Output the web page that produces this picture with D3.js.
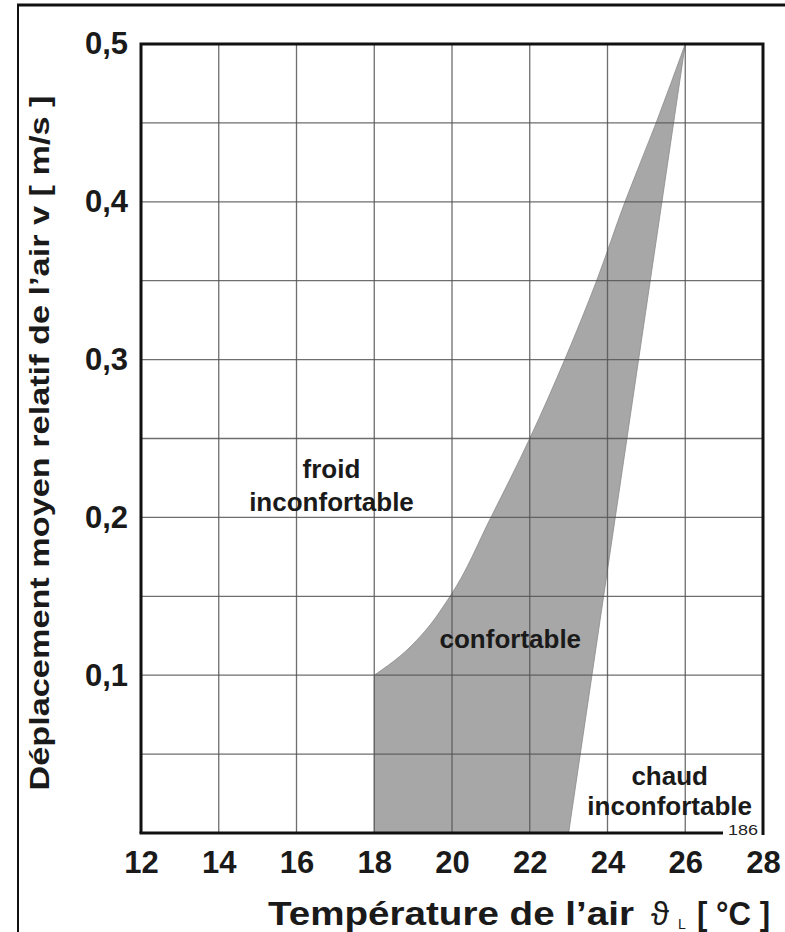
<!DOCTYPE html>
<html>
<head>
<meta charset="utf-8">
<script src="https://cdn.jsdelivr.net/npm/d3@7"></script>
<style>
  body { margin: 0; background: #fff; }
  text { font-family: "Liberation Sans", Arial, sans-serif; }
</style>
</head>
<body>
<div id="chart"></div>
<script>
// tick values
const xTicks = [12, 14, 16, 18, 20, 22, 24, 26, 28];
const yTicks = [0.1, 0.2, 0.3, 0.4, 0.5];
const xGrid = [14, 16, 18, 20, 22, 24, 26];
const yGrid = [0.05, 0.1, 0.15, 0.2, 0.25, 0.3, 0.35, 0.4, 0.45];

// comfort zone: left (cold) boundary
const coldEdgeT = [18, 18.66, 19.2, 19.95, 21.0, 22.0, 22.9, 23.72, 24.45, 25.25, 26];
const coldEdgeV = [0.1, 0.112, 0.125, 0.15, 0.2, 0.25, 0.3, 0.35, 0.4, 0.45, 0.5];
// right (warm) boundary
const warmEdgeT = [26, 23];
const warmEdgeV = [0.5, 0];
// bottom of zone
const baseT = [18, 18];
const baseV = [0, 0.1];

const W = 785, H = 932;
const margin = {top: 44, right: 22, bottom: 99, left: 141};
const width = W - margin.left - margin.right,
      height = H - margin.top - margin.bottom;

const svg = d3.select("#chart").append("svg")
    .attr("width", W)
    .attr("height", H);

// outer frame lines
svg.append("line").attr("x1", 17).attr("x2", W).attr("y1", 5).attr("y2", 5)
    .attr("stroke", "#111").attr("stroke-width", 3);
svg.append("line").attr("x1", 18).attr("x2", 18).attr("y1", 4).attr("y2", H)
    .attr("stroke", "#111").attr("stroke-width", 2);

const g = svg.append("g")
    .attr("transform", `translate(${margin.left}, ${margin.top})`);

const x = d3.scaleLinear().domain([12, 28]).range([0, width]);
const y = d3.scaleLinear().domain([0, 0.5]).range([height, 0]);

// comfort zone
const coldPts = coldEdgeT.map((t, i) => [t, coldEdgeV[i]]);
const line = d3.line()
    .x(d => x(d[0])).y(d => y(d[1]))
    .curve(d3.curveMonotoneY);
const straight = d3.line().x(d => x(d[0])).y(d => y(d[1]));
const warmPts = warmEdgeT.map((t, i) => [t, warmEdgeV[i]]);
const basePts = baseT.map((t, i) => [t, baseV[i]]);

const zonePath = straight(basePts) + line(coldPts).replace(/^M/, "L") +
    straight(warmPts).replace(/^M/, "L") + "Z";
g.append("path")
    .attr("d", zonePath)
    .attr("fill", "#a7a7a7")
    .attr("stroke", "#8a8a8a")
    .attr("stroke-width", 0.8);

// grid
g.append("g")
    .selectAll("line")
    .data(xGrid)
    .join("line")
    .attr("x1", d => x(d)).attr("x2", d => x(d))
    .attr("y1", 0).attr("y2", height)
    .attr("stroke", "#555").attr("stroke-width", 1.3).attr("opacity", 0.85);
g.append("g")
    .selectAll("line")
    .data(yGrid)
    .join("line")
    .attr("x1", 0).attr("x2", width)
    .attr("y1", d => y(d)).attr("y2", d => y(d))
    .attr("stroke", "#555").attr("stroke-width", 1.3).attr("opacity", 0.85);

// plot border: left, top, right, partial bottom
g.append("path")
    .attr("d", `M0,${height} L0,0 L${width},0 L${width},${height + 2}`)
    .attr("fill", "none").attr("stroke", "#111").attr("stroke-width", 3);
g.append("line")
    .attr("x1", -1.5).attr("x2", 582).attr("y1", height).attr("y2", height)
    .attr("stroke", "#111").attr("stroke-width", 3);
g.append("text")
    .attr("x", 587).attr("y", height + 2)
    .attr("font-size", 15).attr("fill", "#222")
    .attr("textLength", 30).attr("lengthAdjust", "spacingAndGlyphs")
    .text("186");

// x axis
const xAxis = g.append("g")
    .attr("transform", `translate(0, ${height})`)
    .call(d3.axisBottom(x).tickValues(xTicks).tickSize(0).tickPadding(18).tickFormat(d3.format("d")));
xAxis.select(".domain").remove();
xAxis.selectAll("text")
    .attr("font-size", 31).attr("font-weight", "bold").attr("fill", "#1a1a1a")
    .attr("font-family", "'Liberation Sans', Arial, sans-serif");

// y axis
const yAxis = g.append("g")
    .call(d3.axisLeft(y).tickValues(yTicks).tickSize(0).tickPadding(13)
        .tickFormat(d => d3.format(".1f")(d).replace(".", ",")));
yAxis.select(".domain").remove();
yAxis.selectAll("text")
    .attr("font-size", 31).attr("font-weight", "bold").attr("fill", "#1a1a1a")
    .attr("font-family", "'Liberation Sans', Arial, sans-serif");

// axis titles
const xTitle = svg.append("g").attr("font-weight", "bold").attr("fill", "#1a1a1a");
xTitle.append("text")
    .attr("x", 268).attr("y", 925).attr("font-size", 33)
    .attr("textLength", 366).attr("lengthAdjust", "spacingAndGlyphs")
    .text("Température de l’air");
xTitle.append("text")
    .attr("x", 651).attr("y", 925).attr("font-size", 33)
    .attr("font-weight", "normal").attr("font-family", "'DejaVu Serif', serif")
    .text("ϑ");
xTitle.append("text")
    .attr("x", 678).attr("y", 929).attr("font-size", 14)
    .attr("font-weight", "normal")
    .text("L");
xTitle.append("text")
    .attr("x", 697).attr("y", 925).attr("font-size", 33)
    .attr("textLength", 73).attr("lengthAdjust", "spacingAndGlyphs")
    .text("[ °C ]");

svg.append("text")
    .attr("transform", "translate(49, 443) rotate(-90)")
    .attr("text-anchor", "middle")
    .attr("font-size", 27).attr("font-weight", "bold").attr("fill", "#1a1a1a")
    .attr("textLength", 695).attr("lengthAdjust", "spacingAndGlyphs")
    .text("Déplacement moyen relatif de l’air v  [ m/s ]");

// zone labels (baseline positions)
const lab = (tx, ty, s) => g.append("text")
    .attr("x", x(tx)).attr("y", y(ty))
    .attr("text-anchor", "middle")
    .attr("font-size", 26).attr("font-weight", "bold").attr("fill", "#1a1a1a")
    .text(s);
lab(16.9, 0.225, "froid");
lab(16.9, 0.204, "inconfortable");
lab(21.5, 0.117, "confortable");
lab(25.6, 0.0305, "chaud");
lab(25.6, 0.0115, "inconfortable");
</script>
</body>
</html>
